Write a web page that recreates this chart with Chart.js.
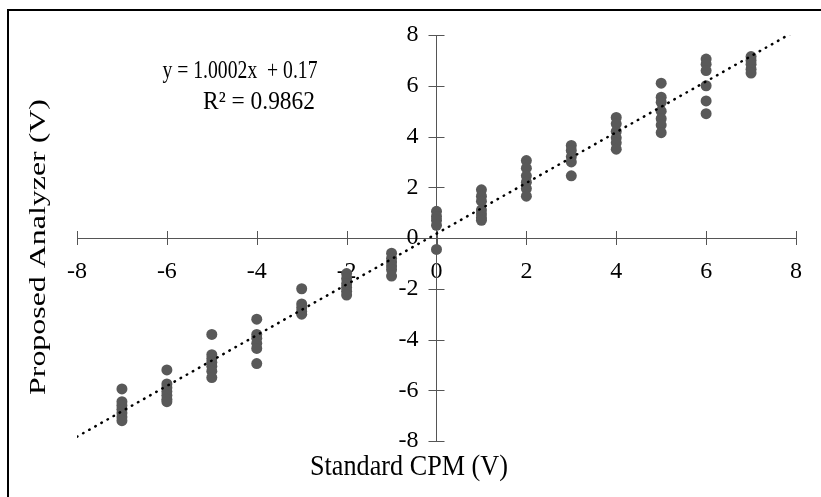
<!DOCTYPE html>
<html>
<head>
<meta charset="utf-8">
<script src="https://cdn.jsdelivr.net/npm/chart.js@4"></script>
<style>
  html, body { margin: 0; padding: 0; background: #fff; }
  #wrap { width: 821px; height: 497px; }
</style>
</head>
<body>
<div id="wrap"><canvas id="myChart" width="821" height="497"></canvas></div>
<script>
// x values (Standard CPM) and the readings at each of them (Proposed Analyzer)
var standardX = [-7, -6, -5, -4, -3, -2, -1, 0, 1, 2, 3, 4, 5, 6, 7];
var analyzerY = [
    [-5.95, -6.45, -6.6, -6.75, -6.9, -7.05, -7.2],
    [-5.2, -5.75, -5.9, -6.05, -6.2, -6.35, -6.45],
    [-3.8, -4.6, -4.75, -4.9, -5.05, -5.25, -5.5],
    [-3.2, -3.8, -3.95, -4.15, -4.35, -4.95],
    [-2.0, -2.6, -2.75, -2.9, -3.0],
    [-1.4, -1.6, -1.8, -1.95, -2.1, -2.25],
    [-0.6, -0.8, -0.95, -1.1, -1.25, -1.5],
    [1.05, 0.85, 0.7, 0.5, -0.45],
    [1.9, 1.65, 1.45, 1.1, 0.95, 0.8, 0.7],
    [3.05, 2.75, 2.45, 2.2, 1.95, 1.65],
    [3.65, 3.45, 3.2, 3.0, 2.45],
    [4.75, 4.5, 4.2, 3.95, 3.75, 3.5],
    [6.1, 5.55, 5.35, 5.0, 4.7, 4.45, 4.15],
    [7.05, 6.85, 6.6, 6.0, 5.4, 4.9],
    [7.15, 7.0, 6.85, 6.65, 6.5]
];
// linear trendline end points
var trendX = [-8, 8];
var trendY = [-7.83, 8.17];
var equationLines = ['y = 1.0002x  + 0.17', 'R\u00b2 = 0.9862'];

var points = [];
standardX.forEach(function (x, i) {
    analyzerY[i].forEach(function (y) { points.push({x: x, y: y}); });
});
var trend = trendX.map(function (x, i) { return {x: x, y: trendY[i]}; });

var serif = '"Liberation Serif", "Times New Roman", serif';

// draws text squeezed/stretched to a given width
function fitText(c, text, x, y, width, sy) {
    var w = c.measureText(text).width;
    c.save();
    c.translate(x, y);
    c.scale(width / w, sy);
    c.fillText(text, 0, 0);
    c.restore();
}

// cross ticks, border frame, axis titles and equation
var extras = {
    id: 'extras',
    beforeDatasetsDraw: function (chart) {
        var c = chart.ctx, xs = chart.scales.x, ys = chart.scales.y;
        var y0 = ys.getPixelForValue(0), x0 = xs.getPixelForValue(0);
        c.save();
        c.strokeStyle = '#555';
        c.lineWidth = 1;
        c.beginPath();
        xs.ticks.forEach(function (t) {
            var px = Math.round(xs.getPixelForValue(t.value)) + 0.5;
            c.moveTo(px, y0 - 7); c.lineTo(px, y0 + 7);
        });
        ys.ticks.forEach(function (t) {
            var py = Math.round(ys.getPixelForValue(t.value)) + 0.5;
            c.moveTo(x0 - 8, py); c.lineTo(x0 + 8, py);
        });
        c.stroke();
        c.restore();
    },
    afterDraw: function (chart) {
        var c = chart.ctx;
        c.save();
        c.strokeStyle = '#000';
        c.lineWidth = 2;
        c.strokeRect(8, 10, 840, 520);
        c.fillStyle = '#000';
        c.textBaseline = 'middle';
        c.textAlign = 'center';
        c.font = '21px ' + serif;
        fitText(c, equationLines[0], 240, 72, 155, 1.15);
        fitText(c, equationLines[1], 259, 103, 112, 1.15);
        c.font = '25px ' + serif;
        fitText(c, 'Standard CPM (V)', 409, 467, 198, 1.15);
        c.translate(39, 247);
        c.rotate(-Math.PI / 2);
        fitText(c, 'Proposed Analyzer (V)', 0, 0, 296, 0.95);
        c.restore();
    }
};

var ctx = document.getElementById('myChart').getContext('2d');
var myChart = new Chart(ctx, {
    type: 'scatter',
    data: {
        datasets: [{
            type: 'line',
            label: 'Linear trend',
            data: trend,
            borderColor: '#000',
            borderWidth: 2.5,
            borderDash: [0.5, 6.5],
            borderCapStyle: 'round',
            pointRadius: 0,
            fill: false,
            order: 0
        }, {
            label: 'Readings',
            data: points,
            backgroundColor: '#595959',
            borderColor: '#595959',
            pointRadius: 5.5,
            pointBorderWidth: 0,
            order: 1
        }]
    },
    plugins: [extras],
    options: {
        responsive: false,
        animation: false,
        layout: { padding: { left: 77, top: 35, right: 23, bottom: 56 } },
        plugins: {
            legend: { display: false },
            tooltip: { enabled: false }
        },
        scales: {
            x: {
                type: 'linear',
                position: { y: 0 },
                min: -8, max: 8,
                afterFit: function (s) { s.height = 0; },
                ticks: { stepSize: 2, color: '#000', padding: 19, font: { family: serif, size: 24 } },
                grid: { drawOnChartArea: false, drawTicks: false },
                border: { color: '#555', width: 1 }
            },
            y: {
                type: 'linear',
                position: { x: 0 },
                min: -8, max: 8,
                afterFit: function (s) { s.width = 0; },
                ticks: {
                    stepSize: 2, color: '#000', font: { family: serif, size: 24 },
                    callback: function (v) { return v + '   '; }
                },
                grid: { drawOnChartArea: false, drawTicks: false },
                border: { color: '#555', width: 1 }
            }
        }
    }
});
</script>
</body>
</html>
